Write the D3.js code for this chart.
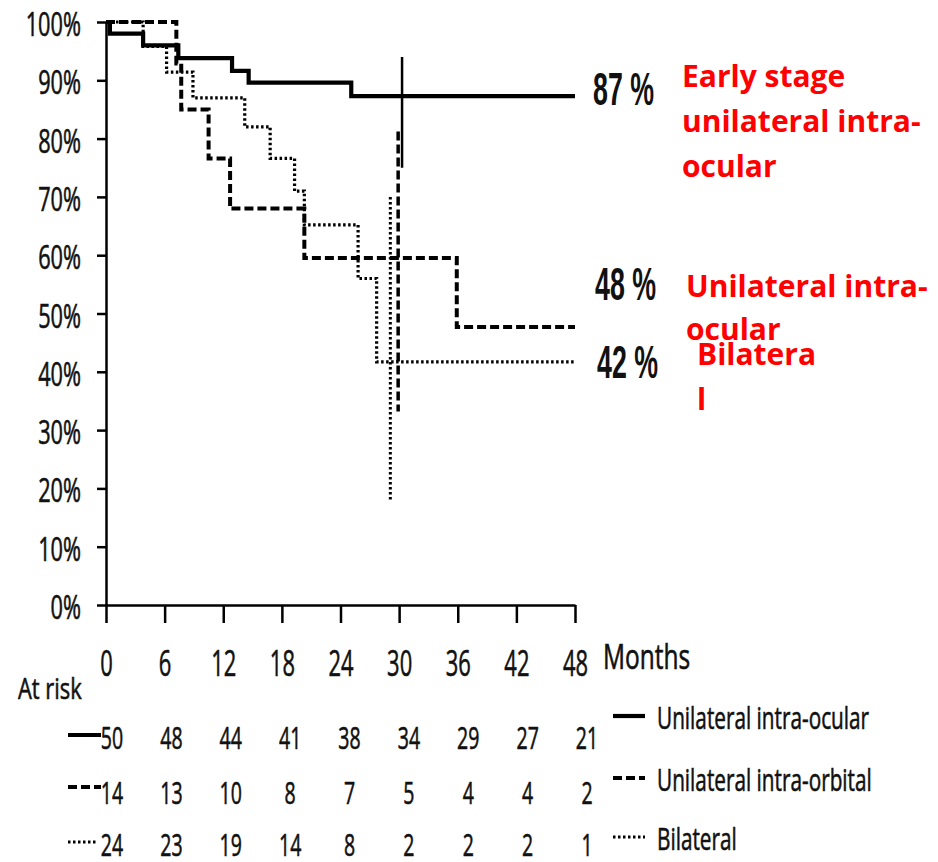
<!DOCTYPE html>
<html><head><meta charset="utf-8">
<script src="https://cdn.jsdelivr.net/npm/d3@7"></script>
<style>body{margin:0;background:#fff}svg{display:block}</style>
</head><body>
<svg id="c" width="938" height="862"></svg>
<script>
// ---- data ----
const months = [0, 6, 12, 18, 24, 30, 36, 42, 48];
const yTicks = [0, 10, 20, 30, 40, 50, 60, 70, 80, 90, 100];
const seriesNames = ["Unilateral intra-ocular", "Unilateral intra-orbital", "Bilateral"];

const ocularTimes = [0, 0.4, 3.8, 7.4, 12.9, 14.6, 25.1, 48];
const ocularSurv  = [100, 98, 96, 93.8, 91.6, 89.6, 87.3, 87.3];

const orbitalTimes = [0, 7.2, 7.7, 10.5, 12.7, 20.3, 35.9, 48];
const orbitalSurv  = [100, 92.9, 85, 76.6, 68, 59.5, 47.7, 47.7];

const bilatTimes = [0, 3.8, 6.2, 8.9, 14.2, 16.8, 19.3, 20.3, 25.8, 27.7, 48];
const bilatSurv  = [100, 95.8, 91.4, 87, 82, 76.6, 71, 65.2, 56, 41.7, 41.7];

const ciTimes = [30.3, 29.9, 29.1];
const ciLow   = [75, 33.2, 18];
const ciHigh  = [94, 81.2, 70];

const atRiskOcular  = [50, 48, 44, 41, 38, 34, 29, 27, 21];
const atRiskOrbital = [14, 13, 10, 8, 7, 5, 4, 4, 2];
const atRiskBilat   = [24, 23, 19, 14, 8, 2, 2, 2, 1];

const finalPct = ["87 %", "48 %", "42 %"];
const redLabels = [["Early stage", "unilateral intra-", "ocular"], ["Unilateral intra-", "ocular"], ["Bilatera", "l"]];

// ---- styles ----
const FONT = "'Open Sans', 'Noto Sans', sans-serif";
const dashes = [null, "9,4", "2.5,2.5"];
const widths = [4.2, 4, 3.2];

const svg = d3.select("#c");
const x = d3.scaleLinear().domain([0, 48]).range([106, 575]);
const y = d3.scaleLinear().domain([0, 100]).range([605, 22]);
const riskX = d3.scaleLinear().domain([0, 48]).range([112, 587]);

// y axis
const ky = 0.68;
const gy = svg.append("g").attr("transform", "translate(106,0)")
  .call(d3.axisLeft(y).tickValues(yTicks).tickFormat(d => d + "%").tickSize(9).tickSizeOuter(0));
gy.selectAll("path,line").attr("stroke", "#000").attr("stroke-width", 2.5);
gy.selectAll("text").attr("font-family", FONT).attr("font-size", 32).attr("fill", "#111")
  .attr("stroke", "#111").attr("stroke-width", 0.6)
  .attr("x", -25 / ky).attr("dy", "0.36em").attr("transform", `translate(0,2) scale(${ky},1)`);

// x axis
const kx = 0.61;
const gx = svg.append("g").attr("transform", "translate(0,605)")
  .call(d3.axisBottom(x).tickValues(months).tickSize(18).tickSizeOuter(0));
gx.selectAll("path,line").attr("stroke", "#000").attr("stroke-width", 2.5);
gx.selectAll("text").attr("font-family", FONT).attr("font-size", 36).attr("fill", "#111")
  .attr("stroke", "#111").attr("stroke-width", 0.6)
  .attr("y", 58).attr("dy", "0.36em").attr("transform", `scale(${kx},1)`);

// curves
const line = d3.line().x(d => x(d[0])).y(d => y(d[1])).curve(d3.curveStepAfter);
const curves = [
  d3.zip(ocularTimes, ocularSurv),
  d3.zip(orbitalTimes, orbitalSurv),
  d3.zip(bilatTimes, bilatSurv)
];
[2, 1, 0].forEach(i => {
  svg.append("path").datum(curves[i]).attr("d", line)
    .attr("fill", "none").attr("stroke", "#000").attr("stroke-width", widths[i])
    .attr("stroke-dasharray", dashes[i]);
});

// CI bars at 30 months
[2, 1, 0].forEach(i => {
  svg.append("line").attr("x1", x(ciTimes[i])).attr("x2", x(ciTimes[i]))
    .attr("y1", y(ciHigh[i])).attr("y2", y(ciLow[i]))
    .attr("stroke", "#000").attr("stroke-width", i === 0 ? 2.5 : (i === 1 ? 3.5 : 3))
    .attr("stroke-dasharray", dashes[i]);
});

// final percentages
const pctX = [593, 595, 597];
const pctY = [105, 300, 378];
finalPct.forEach((t, i) => {
  svg.append("text").attr("x", pctX[i]).attr("y", pctY[i]).text(t)
    .attr("font-family", "'Liberation Sans', Arial, sans-serif").attr("font-weight", "bold")
    .attr("font-size", 46).attr("fill", "#111")
    .attr("textLength", 61).attr("lengthAdjust", "spacingAndGlyphs");
});

// red labels
const redX = [682, 686, 697];
const redY0 = [87, 297, 365];
const redLH = [45, 43, 45];
redLabels.forEach((lines, i) => {
  lines.forEach((t, j) => {
    svg.append("text").attr("x", redX[i]).attr("y", redY0[i] + j * redLH[i]).text(t)
      .attr("font-family", FONT).attr("font-weight", "bold").attr("font-size", 30).attr("fill", "#ff0000");
  });
});

// Months / At risk
function sText(tx, ty, str, fs, k, anchor) {
  return svg.append("text").attr("transform", `translate(${tx},${ty}) scale(${k},1)`)
    .attr("text-anchor", anchor || "start").attr("dy", "0.36em")
    .attr("font-family", FONT).attr("font-size", fs).attr("fill", "#111")
    .attr("stroke", "#111").attr("stroke-width", 0.6).text(str);
}
sText(603, 657, "Months", 34, 0.72);
sText(18, 688, "At risk", 30, 0.73);

// at-risk rows
const riskRows = [atRiskOcular, atRiskOrbital, atRiskBilat];
const rowY = [738, 793, 845];
riskRows.forEach((vals, r) => {
  vals.forEach((v, j) => sText(riskX(months[j]), rowY[r], v, 31, 0.63, "middle"));
  const ly = rowY[r] - 3 - (r === 1 ? 3 : 0);
  svg.append("line").attr("x1", 68).attr("x2", r === 2 ? 98 : 101)
    .attr("y1", ly).attr("y2", ly)
    .attr("stroke", "#000").attr("stroke-width", widths[r]).attr("stroke-dasharray", dashes[r]);
});

// legend
const legY = [716, 778, 837];
seriesNames.forEach((n, i) => {
  svg.append("line").attr("x1", 613).attr("x2", 645).attr("y1", legY[i]).attr("y2", legY[i])
    .attr("stroke", "#000").attr("stroke-width", widths[i]).attr("stroke-dasharray", dashes[i]);
  sText(657, legY[i] + 2, n, 31, 0.67);
});
</script>
</body></html>
